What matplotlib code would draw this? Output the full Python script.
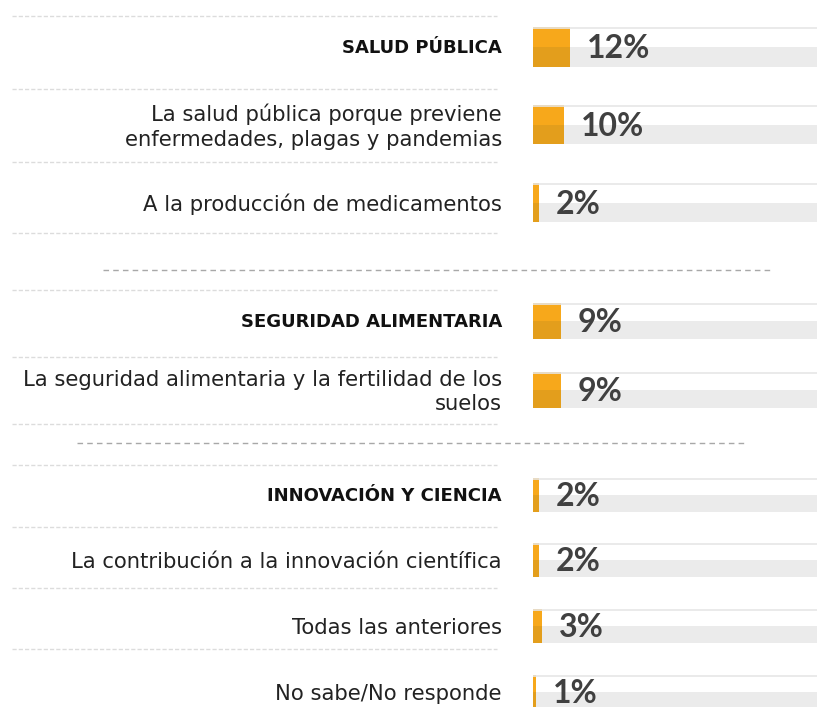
"""
Horizontal bars: why agrochemicals matter (grouped by theme)
"""
import matplotlib.pyplot as plt

# data
labels = [
    'SALUD PÚBLICA',
    'La salud pública porque previene\nenfermedades, plagas y pandemias',
    'A la producción de medicamentos',
    'SEGURIDAD ALIMENTARIA',
    'La seguridad alimentaria y la fertilidad de los\nsuelos',
    'INNOVACIÓN Y CIENCIA',
    'La contribución a la innovación científica',
    'Todas las anteriores',
    'No sabe/No responde',
]
values = [12, 10, 2, 9, 9, 2, 2, 3, 1]
is_header = [True, False, False, True, False, True, False, False, False]

# layout (pixels, y from top)
row_top = [27, 105, 183, 303, 372, 478, 543, 609, 675]
row_bot = [67, 144, 222, 339, 408, 512, 577, 643, 709]
grid_y = [16, 89, 162, 233, 290, 357, 424, 465, 527, 588, 649]
separators = [(270, 103, 770), (443, 77, 745)]

W, H = 817, 707
bar_left = 533
px_per_pct = 3.08

light = '#f7a81b'
dark = '#e39e1c'
track = '#ebebeb'

fig = plt.figure(figsize=(W / 100, H / 100), dpi=100)

# background axes in pixel units for labels and dashed lines
bg = fig.add_axes([0, 0, 1, 1])
bg.set_xlim(0, W)
bg.set_ylim(H, 0)
bg.axis('off')

for y in grid_y:
    bg.plot([12, 497], [y, y], color='#dcdcdc', lw=1, ls=(0, (3, 1.5)))
for y, x0, x1 in separators:
    bg.plot([x0, x1], [y, y], color='#a8a8a8', lw=1, ls=(0, (4, 3)))

for lab, t, b, hdr in zip(labels, row_top, row_bot, is_header):
    c = (t + b) / 2 + 1
    if hdr:
        bg.text(502, c, lab, ha='right', va='center', fontsize=13,
                fontweight='bold', color='#111111', family='DejaVu Sans')
    else:
        bg.text(502, c + 1, lab, ha='right', va='center', fontsize=15.2,
                color='#222222', family='DejaVu Sans', linespacing=1.3,
                multialignment='right')

# bar axes, x in percent
ax = fig.add_axes([bar_left / W, 0, (W - bar_left) / W, 1])
xmax = (W - bar_left) / px_per_pct
ax.set_xlim(0, xmax)
ax.set_ylim(H, 0)
ax.axis('off')

for v, t, b in zip(values, row_top, row_bot):
    h = b - t
    mid = t + h / 2
    # track
    ax.barh(t + h * 3 / 4, xmax, height=h / 2, left=0, color=track, lw=0)
    ax.hlines(t + 0.5, 0, xmax, color='#e6e6e6', lw=1.2)
    # bar, two tones
    ax.barh(t + h / 4, v, height=h / 2, color=light, lw=0)
    ax.barh(t + h * 3 / 4, v, height=h / 2, color=dark, lw=0)
    ax.annotate(f'{v}%', xy=(v, mid + 1.5), xytext=(17, 0),
                textcoords='offset pixels', ha='left', va='center',
                fontsize=23, fontweight='bold', color='#404040',
                family='Lato')

plt.savefig('out.png', dpi=100)
